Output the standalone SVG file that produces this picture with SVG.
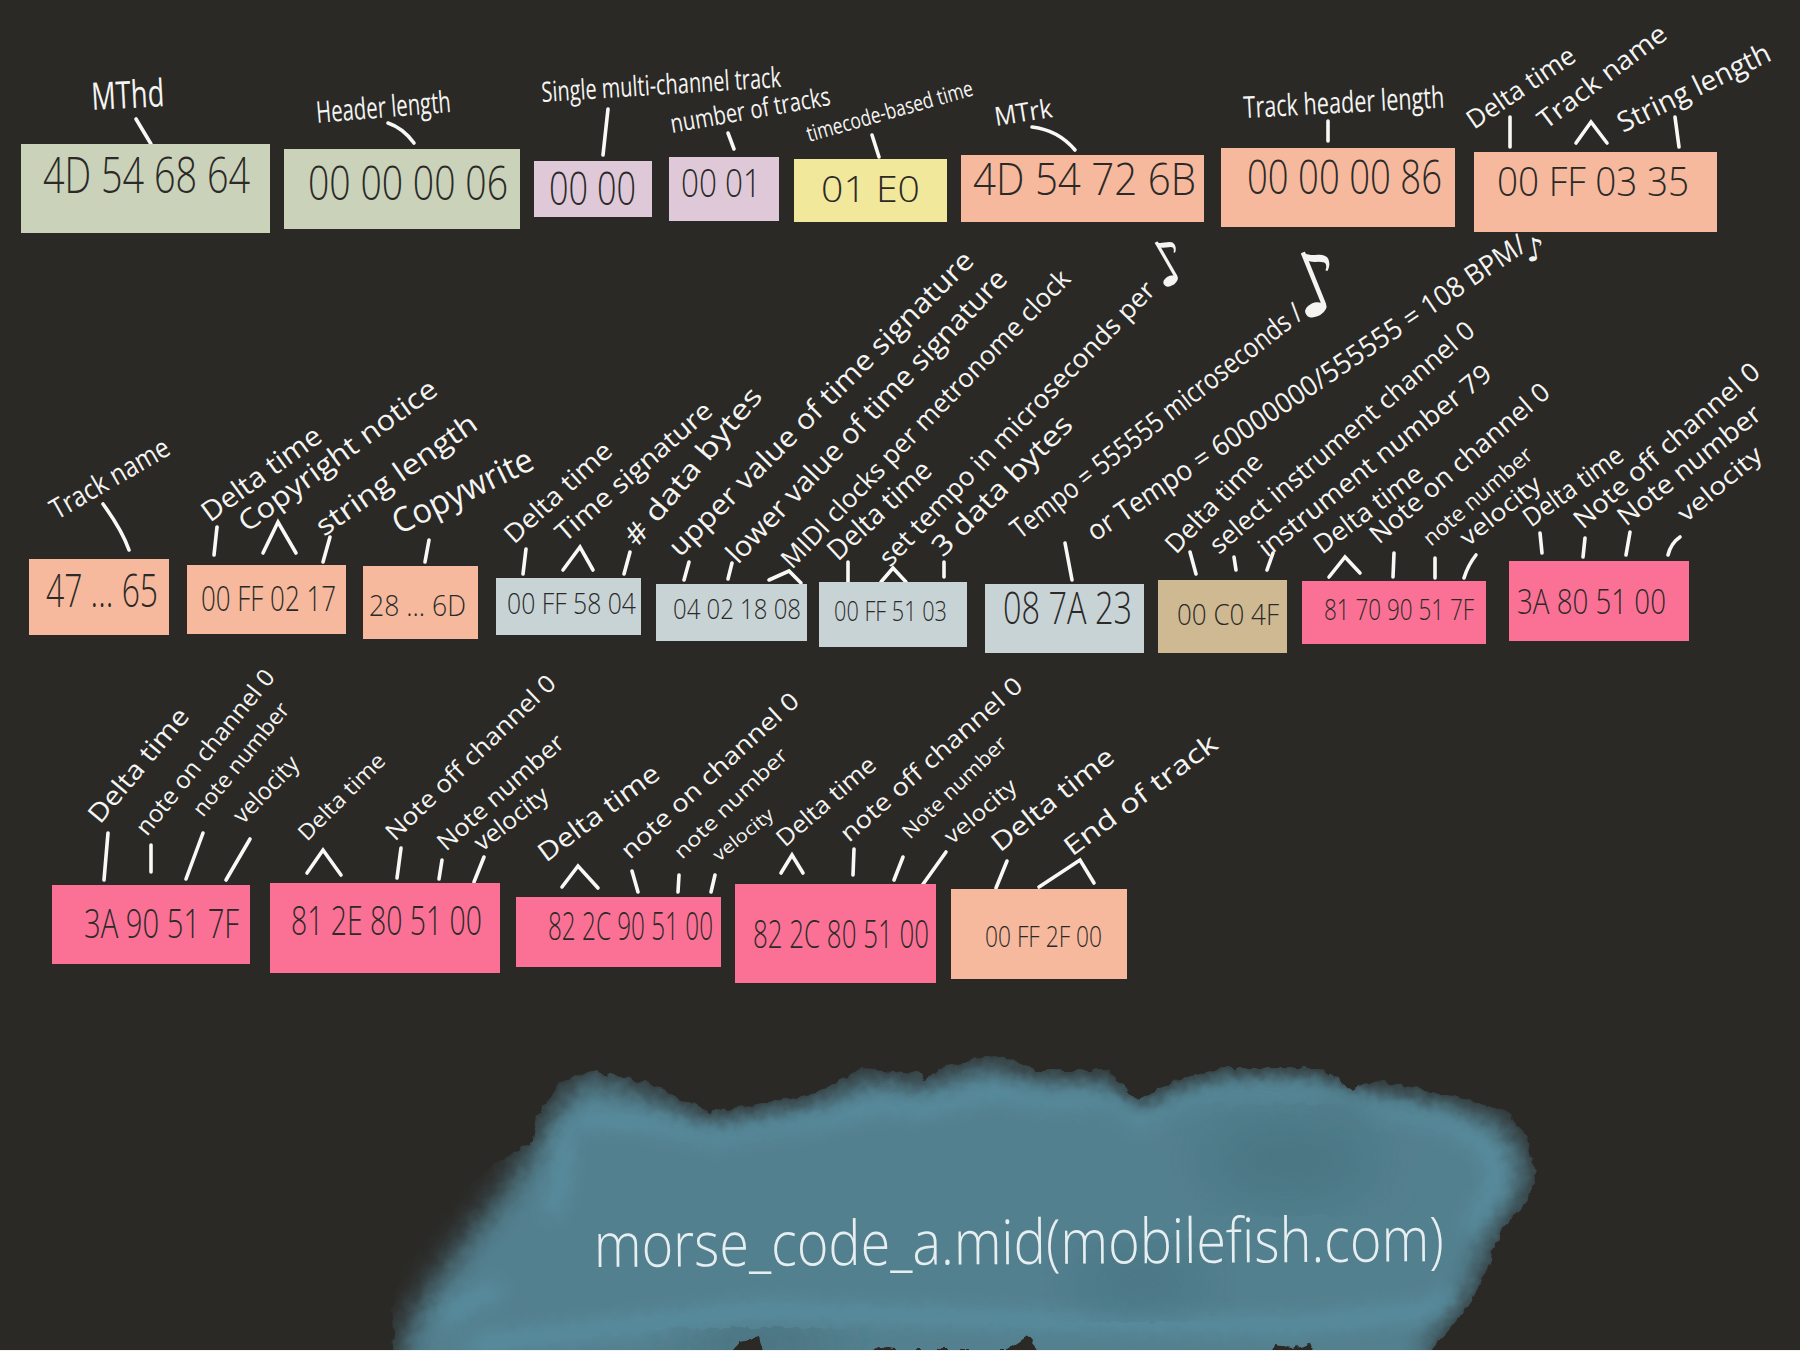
<svg xmlns="http://www.w3.org/2000/svg" width="1800" height="1351" viewBox="0 0 1800 1351">
<style>
text{font-family:"Open Sans","Liberation Sans",sans-serif}
.l{fill:#f4f4f2;font-size:24px}
.h{fill:#2b2a28;font-size:36px;font-weight:300}
.n{fill:#f4f4f2;font-family:"DejaVu Sans",sans-serif}
.gr{fill:#cad2b9}.pu{fill:#dfc9d9}.ye{fill:#f2e89b}.or{fill:#f6b99d}.bl{fill:#c8d3d6}.ta{fill:#cfb992}.pk{fill:#fb7095}
#connectors path{fill:none;stroke:#f8f8f6;stroke-width:3.6;stroke-linecap:round;stroke-linejoin:miter}
</style>
<defs>
<filter id="b1" x="-10%" y="-10%" width="120%" height="120%"><feGaussianBlur stdDeviation="15"/></filter>
<filter id="b2" x="-10%" y="-10%" width="120%" height="120%"><feGaussianBlur stdDeviation="9"/></filter>
<filter id="b3" x="-20%" y="-20%" width="140%" height="140%"><feGaussianBlur stdDeviation="30"/></filter>
<filter id="jag" x="-5%" y="-5%" width="110%" height="110%"><feTurbulence type="fractalNoise" baseFrequency="0.09" numOctaves="2" seed="4"/><feDisplacementMap in="SourceGraphic" scale="9" xChannelSelector="R" yChannelSelector="G"/></filter>
<clipPath id="cl"><polygon points="587,1070 648,1083 709,1112 763,1103 816,1093 862,1068 916,1073 927,1080 939,1068 992,1055 1038,1070 1107,1070 1138,1100 1176,1080 1222,1068 1321,1068 1352,1090 1375,1080 1451,1095 1505,1110 1528,1137 1536,1180 1520,1210 1501,1230 1482,1283 1467,1307 1436,1347 1425,1360 1321,1360 1310,1343 1291,1348 1275,1345 1268,1360 1046,1360 1027,1337 1008,1350 893,1350 877,1347 862,1360 766,1360 759,1338 740,1342 724,1360 395,1360 391,1307 403,1267 434,1213 487,1170 533,1140 537,1117 560,1083"/></clipPath>
</defs>
<rect width="1800" height="1351" fill="#2a2926"/>

<g id="cloud">
<g filter="url(#jag)"><g clip-path="url(#cl)">
<polygon filter="url(#b1)" fill="#52808f" points="587,1072 648,1092 709,1120 763,1111 816,1101 862,1076 916,1081 927,1088 939,1076 992,1063 1038,1078 1107,1078 1138,1108 1176,1088 1222,1076 1321,1076 1352,1098 1375,1088 1451,1103 1500,1118 1523,1145 1531,1180 1515,1210 1496,1230 1477,1283 1462,1307 1431,1347 1420,1420 400,1420 402,1335 425,1295 465,1240 505,1190 530,1150 555,1105"/>
<path filter="url(#b2)" fill="none" stroke="#5a92a4" stroke-width="13" d="M575,1118 L650,1122 L715,1138 L765,1128 L820,1120 L880,1104 L925,1108 L990,1090 L1040,1098 L1105,1098 L1140,1122 L1180,1102 L1225,1090 L1320,1090 L1375,1108 L1450,1122 L1490,1150 L1497,1185 L1470,1230 M565,1125 L562,1175 L552,1215 M440,1320 L470,1300 L500,1290 M470,1345 L760,1310 L1020,1320 L1300,1325 L1430,1310 L1455,1290"/>
<ellipse filter="url(#b3)" cx="1290" cy="1160" rx="90" ry="40" fill="#4a7482"/>
<ellipse filter="url(#b3)" cx="1140" cy="1280" rx="70" ry="30" fill="#4a7483"/>
<ellipse filter="url(#b3)" cx="760" cy="1345" rx="80" ry="12" fill="#3f5f69"/>
</g></g>
<text class="l" transform="rotate(-0.4 594 1267)" x="594" y="1267" textLength="850" lengthAdjust="spacingAndGlyphs" style="font-size:62px;fill:#e6eef0;font-weight:300">morse_code_a.mid(mobilefish.com)</text>
</g>
<rect y="1350" width="1800" height="1" fill="#f2f2f2"/>

<g id="connectors">
<path d="M136,119L151,144"/><path d="M388,123Q403,128 414,143"/><path d="M608,109L603,155"/><path d="M728,133L734,149"/><path d="M872,135L879,157"/><path d="M1032,127Q1058,130 1075,150"/><path d="M1328,121V141"/><path d="M1510,117V147"/><path d="M1576,143L1591,122L1607,143"/><path d="M1675,117L1679,147"/>
<path d="M103,504Q122,530 129,550"/><path d="M217,527L214,555"/><path d="M263,553L278,522L296,553"/><path d="M330,537L323,562"/><path d="M429,540L425,562"/><path d="M526,549L523,574"/><path d="M563,570L580,547L593,570"/><path d="M630,552L624,574"/><path d="M689,562L684,580"/><path d="M732,563L728,579"/><path d="M769,580L789,571L801,583"/><path d="M848,562V582"/><path d="M881,582L893,568L906,582"/><path d="M944,562V577"/><path d="M1065,543L1072,580"/><path d="M1190,552L1196,574"/><path d="M1234,557L1236,570"/><path d="M1273,553L1267,570"/><path d="M1329,577L1345,557L1360,573"/><path d="M1394,553L1393,577"/><path d="M1435,558V578"/><path d="M1476,555Q1468,565 1464,578"/><path d="M1540,533L1542,553"/><path d="M1585,538L1583,557"/><path d="M1630,532L1626,555"/><path d="M1680,537Q1671,543 1668,555"/>
<path d="M108,833L104,880"/><path d="M151,845V872"/><path d="M203,833L186,879"/><path d="M250,839L226,880"/><path d="M307,873L323,850L341,875"/><path d="M401,848L397,878"/><path d="M442,860L439,879"/><path d="M484,857L474,882"/><path d="M562,887L578,866L598,888"/><path d="M632,871L638,892"/><path d="M679,875L678,892"/><path d="M715,875L711,892"/><path d="M781,873L792,855L803,873"/><path d="M854,849L853,875"/><path d="M903,857L894,880"/><path d="M946,852L921,887"/><path d="M1007,861L996,888"/><path d="M1039,887L1080,860L1094,883"/>
</g>

<g id="mthd"><rect class="gr" x="21" y="144" width="249" height="89"/><text class="h" x="43" y="193" textLength="207" lengthAdjust="spacingAndGlyphs" style="font-size:50px">4D 54 68 64</text><text class="l" x="92" y="110" transform="rotate(-3 92 110)" textLength="73" lengthAdjust="spacingAndGlyphs" style="font-size:38px">MThd</text></g>
<g id="hlen"><rect class="gr" x="284" y="149" width="236" height="80"/><text class="h" x="308" y="200" textLength="200" lengthAdjust="spacingAndGlyphs" style="font-size:48px">00 00 00 06</text><text class="l" x="317" y="123" transform="rotate(-4.7 317 123)" textLength="135" lengthAdjust="spacingAndGlyphs" style="font-size:30px">Header length</text></g>
<g id="fmt"><rect class="pu" x="534" y="161" width="118" height="56"/><text class="h" x="549" y="205" textLength="87" lengthAdjust="spacingAndGlyphs" style="font-size:46px">00 00</text><text class="l" x="542" y="102" transform="rotate(-3.6 542 102)" textLength="240" lengthAdjust="spacingAndGlyphs" style="font-size:28px">Single multi-channel track</text></g>
<g id="ntrk"><rect class="pu" x="669" y="157" width="110" height="64"/><text class="h" x="681" y="197" textLength="80" lengthAdjust="spacingAndGlyphs" style="font-size:38px">00 01</text><text class="l" x="672" y="133" transform="rotate(-10 672 133)" textLength="162" lengthAdjust="spacingAndGlyphs" style="font-size:26px">number of tracks</text></g>
<g id="div"><rect class="ye" x="794" y="159" width="153" height="63"/><text class="h" x="821" y="202" textLength="99" lengthAdjust="spacingAndGlyphs" style="font-size:36px">01 E0</text><text class="l" x="809" y="142" transform="rotate(-15.8 809 142)" textLength="172" lengthAdjust="spacingAndGlyphs" style="font-size:22px">timecode-based time</text></g>
<g id="mtrk"><rect class="or" x="961" y="155" width="243" height="67"/><text class="h" x="973" y="195" textLength="223" lengthAdjust="spacingAndGlyphs" style="font-size:44px">4D 54 72 6B</text><text class="l" x="996" y="126" transform="rotate(-9 996 126)" textLength="58" lengthAdjust="spacingAndGlyphs" style="font-size:26px">MTrk</text></g>
<g id="tlen"><rect class="or" x="1221" y="148" width="234" height="79"/><text class="h" x="1247" y="194" textLength="195" lengthAdjust="spacingAndGlyphs" style="font-size:48px">00 00 00 86</text><text class="l" x="1244" y="118" transform="rotate(-3 1244 118)" textLength="201" lengthAdjust="spacingAndGlyphs" style="font-size:30px">Track header length</text></g>
<g id="tname"><rect class="or" x="1474" y="152" width="243" height="80"/><text class="h" x="1497" y="196" textLength="192" lengthAdjust="spacingAndGlyphs" style="font-size:40px">00 FF 03 35</text><text class="l" x="1474" y="130" transform="rotate(-34 1474 130)" textLength="125" lengthAdjust="spacingAndGlyphs" style="font-size:26px">Delta time</text><text class="l" x="1546" y="130" transform="rotate(-37 1546 130)" textLength="154" lengthAdjust="spacingAndGlyphs" style="font-size:26px">Track name</text><text class="l" x="1623" y="133" transform="rotate(-26 1623 133)" textLength="167" lengthAdjust="spacingAndGlyphs" style="font-size:28px">String length</text></g>

<g id="name"><rect class="or" x="29" y="559" width="140" height="76"/><text class="h" x="46" y="607" textLength="112" lengthAdjust="spacingAndGlyphs" style="font-size:46px">47 ... 65</text><text class="l" x="57" y="520" transform="rotate(-30 57 520)" textLength="133" lengthAdjust="spacingAndGlyphs" style="font-size:28px">Track name</text></g>
<g id="copy"><rect class="or" x="187" y="565" width="159" height="69"/><text class="h" x="201" y="611" textLength="135" lengthAdjust="spacingAndGlyphs" style="font-size:34px">00 FF 02 17</text><text class="l" x="210" y="523" transform="rotate(-36 210 523)" textLength="141" lengthAdjust="spacingAndGlyphs" style="font-size:28px">Delta time</text><text class="l" x="247" y="533" transform="rotate(-36 247 533)" textLength="238" lengthAdjust="spacingAndGlyphs" style="font-size:28px">Copyright notice</text><text class="l" x="324" y="537" transform="rotate(-35 324 537)" textLength="190" lengthAdjust="spacingAndGlyphs" style="font-size:28px">string length</text></g>
<g id="cw"><rect class="or" x="363" y="566" width="115" height="73"/><text class="h" x="369" y="616" textLength="97" lengthAdjust="spacingAndGlyphs" style="font-size:30px">28 ... 6D</text><text class="l" x="399" y="535" transform="rotate(-26 399 535)" textLength="153" lengthAdjust="spacingAndGlyphs" style="font-size:34px">Copywrite</text></g>
<g id="ts"><rect class="bl" x="496" y="578" width="145" height="57"/><text class="h" x="507" y="614" textLength="129" lengthAdjust="spacingAndGlyphs" style="font-size:30px">00 FF 58 04</text><text class="l" x="514" y="545" transform="rotate(-42.6 514 545)" textLength="136" lengthAdjust="spacingAndGlyphs" style="font-size:26px">Delta time</text><text class="l" x="565" y="543" transform="rotate(-41 565 543)" textLength="198" lengthAdjust="spacingAndGlyphs" style="font-size:26px">Time signature</text><text class="l" x="637" y="548" transform="rotate(-50 637 548)" textLength="197" lengthAdjust="spacingAndGlyphs" style="font-size:28px"># data bytes</text></g>
<g id="tsv"><rect class="bl" x="656" y="584" width="151" height="57"/><text class="h" x="673" y="619" textLength="128" lengthAdjust="spacingAndGlyphs" style="font-size:28px">04 02 18 08</text><text class="l" x="680" y="558" transform="rotate(-45 680 558)" textLength="418" lengthAdjust="spacingAndGlyphs" style="font-size:28px">upper value of time signature</text><text class="l" x="738" y="565" transform="rotate(-46.4 738 565)" textLength="393" lengthAdjust="spacingAndGlyphs" style="font-size:28px">lower value of time signature</text><text class="l" x="792" y="570" transform="rotate(-46 792 570)" textLength="403" lengthAdjust="spacingAndGlyphs" style="font-size:26px">MIDI clocks per metronome clock</text></g>
<g id="tmp"><rect class="bl" x="819" y="582" width="148" height="65"/><text class="h" x="834" y="621" textLength="113" lengthAdjust="spacingAndGlyphs" style="font-size:28px">00 FF 51 03</text><text class="l" x="838" y="562" transform="rotate(-43 838 562)" textLength="131" lengthAdjust="spacingAndGlyphs" style="font-size:28px">Delta time</text><text class="l" x="890" y="568" transform="rotate(-46 890 568)" textLength="384" lengthAdjust="spacingAndGlyphs" style="font-size:26px">set tempo in microseconds per</text><text class="n" x="1148" y="284" transform="rotate(-30 1168 262)" style="font-size:62px">♪</text><text class="l" x="943" y="558" transform="rotate(-45 943 558)" textLength="186" lengthAdjust="spacingAndGlyphs" style="font-size:28px">3 data bytes</text></g>
<g id="tmpv"><rect class="bl" x="985" y="584" width="159" height="69"/><text class="h" x="1003" y="624" textLength="129" lengthAdjust="spacingAndGlyphs" style="font-size:44px">08 7A 23</text><text class="l" x="1020" y="540" transform="rotate(-38 1020 540)" textLength="362" lengthAdjust="spacingAndGlyphs" style="font-size:28px">Tempo = 555555 microseconds /</text><text class="n" x="1286" y="316" transform="rotate(-22 1310 280)" style="font-size:88px">♪</text><text class="l" x="1095" y="542" transform="rotate(-34 1095 542)" textLength="523" lengthAdjust="spacingAndGlyphs" style="font-size:28px">or Tempo = 60000000/555555 = 108 BPM/</text><text class="n" x="1524" y="260" transform="rotate(-10 1538 245)" style="font-size:32px">♪</text></g>
<g id="prog"><rect class="ta" x="1158" y="580" width="129" height="73"/><text class="h" x="1177" y="625" textLength="102" lengthAdjust="spacingAndGlyphs" style="font-size:30px">00 C0 4F</text><text class="l" x="1176" y="555" transform="rotate(-46 1176 555)" textLength="127" lengthAdjust="spacingAndGlyphs" style="font-size:26px">Delta time</text><text class="l" x="1219" y="555" transform="rotate(-40.7 1219 555)" textLength="340" lengthAdjust="spacingAndGlyphs" style="font-size:26px">select instrument channel 0</text><text class="l" x="1267" y="558" transform="rotate(-38.6 1267 558)" textLength="290" lengthAdjust="spacingAndGlyphs" style="font-size:26px">instrument number 79</text></g>
<g id="on1"><rect class="pk" x="1302" y="581" width="184" height="63"/><text class="h" x="1324" y="620" textLength="150" lengthAdjust="spacingAndGlyphs" style="font-size:30px">81 70 90 51 7F</text><text class="l" x="1322" y="555" transform="rotate(-37 1322 555)" textLength="129" lengthAdjust="spacingAndGlyphs" style="font-size:26px">Delta time</text><text class="l" x="1379" y="545" transform="rotate(-41 1379 545)" textLength="229" lengthAdjust="spacingAndGlyphs" style="font-size:26px">Note on channel 0</text><text class="l" x="1431" y="547" transform="rotate(-41 1431 547)" textLength="137" lengthAdjust="spacingAndGlyphs" style="font-size:22px">note number</text><text class="l" x="1468" y="547" transform="rotate(-38.6 1468 547)" textLength="96" lengthAdjust="spacingAndGlyphs" style="font-size:24px">velocity</text></g>
<g id="off1"><rect class="pk" x="1509" y="561" width="180" height="80"/><text class="h" x="1517" y="614" textLength="149" lengthAdjust="spacingAndGlyphs" style="font-size:34px">3A 80 51 00</text><text class="l" x="1531" y="528" transform="rotate(-36 1531 528)" textLength="117" lengthAdjust="spacingAndGlyphs" style="font-size:26px">Delta time</text><text class="l" x="1583" y="530" transform="rotate(-41 1583 530)" textLength="237" lengthAdjust="spacingAndGlyphs" style="font-size:26px">Note off channel 0</text><text class="l" x="1626" y="527" transform="rotate(-38.6 1626 527)" textLength="176" lengthAdjust="spacingAndGlyphs" style="font-size:26px">Note number</text><text class="l" x="1686" y="523" transform="rotate(-40 1686 523)" textLength="102" lengthAdjust="spacingAndGlyphs" style="font-size:24px">velocity</text></g>

<g id="on2"><rect class="pk" x="52" y="885" width="198" height="79"/><text class="h" x="84" y="938" textLength="155" lengthAdjust="spacingAndGlyphs" style="font-size:40px">3A 90 51 7F</text><text class="l" x="100" y="825" transform="rotate(-50 100 825)" textLength="141" lengthAdjust="spacingAndGlyphs" style="font-size:26px">Delta time</text><text class="l" x="147" y="837" transform="rotate(-51 147 837)" textLength="205" lengthAdjust="spacingAndGlyphs" style="font-size:24px">note on channel 0</text><text class="l" x="203" y="818" transform="rotate(-51 203 818)" textLength="139" lengthAdjust="spacingAndGlyphs" style="font-size:22px">note number</text><text class="l" x="243" y="825" transform="rotate(-46 243 825)" textLength="83" lengthAdjust="spacingAndGlyphs" style="font-size:24px">velocity</text></g>
<g id="off2"><rect class="pk" x="270" y="883" width="230" height="90"/><text class="h" x="291" y="935" textLength="191" lengthAdjust="spacingAndGlyphs" style="font-size:40px">81 2E 80 51 00</text><text class="l" x="307" y="842" transform="rotate(-45 307 842)" textLength="113" lengthAdjust="spacingAndGlyphs" style="font-size:22px">Delta time</text><text class="l" x="395" y="842" transform="rotate(-44 395 842)" textLength="226" lengthAdjust="spacingAndGlyphs" style="font-size:24px">Note off channel 0</text><text class="l" x="446" y="852" transform="rotate(-41.7 446 852)" textLength="161" lengthAdjust="spacingAndGlyphs" style="font-size:24px">Note number</text><text class="l" x="482" y="852" transform="rotate(-38 482 852)" textLength="87" lengthAdjust="spacingAndGlyphs" style="font-size:24px">velocity</text></g>
<g id="on3"><rect class="pk" x="516" y="897" width="205" height="70"/><text class="h" x="548" y="940" textLength="165" lengthAdjust="spacingAndGlyphs" style="font-size:38px">82 2C 90 51 00</text><text class="l" x="546" y="863" transform="rotate(-36.5 546 863)" textLength="144" lengthAdjust="spacingAndGlyphs" style="font-size:26px">Delta time</text><text class="l" x="630" y="860" transform="rotate(-42.6 630 860)" textLength="232" lengthAdjust="spacingAndGlyphs" style="font-size:24px">note on channel 0</text><text class="l" x="682" y="860" transform="rotate(-44 682 860)" textLength="149" lengthAdjust="spacingAndGlyphs" style="font-size:20px">note number</text><text class="l" x="719" y="862" transform="rotate(-38.8 719 862)" textLength="72" lengthAdjust="spacingAndGlyphs" style="font-size:18px">velocity</text></g>
<g id="off3"><rect class="pk" x="735" y="884" width="201" height="99"/><text class="h" x="753" y="948" textLength="176" lengthAdjust="spacingAndGlyphs" style="font-size:38px">82 2C 80 51 00</text><text class="l" x="785" y="848" transform="rotate(-41 785 848)" textLength="123" lengthAdjust="spacingAndGlyphs" style="font-size:24px">Delta time</text><text class="l" x="849" y="843" transform="rotate(-41.5 849 843)" textLength="234" lengthAdjust="spacingAndGlyphs" style="font-size:24px">note off channel 0</text><text class="l" x="910" y="840" transform="rotate(-44 910 840)" textLength="137" lengthAdjust="spacingAndGlyphs" style="font-size:20px">Note number</text><text class="l" x="952" y="845" transform="rotate(-40 952 845)" textLength="87" lengthAdjust="spacingAndGlyphs" style="font-size:22px">velocity</text></g>
<g id="eot"><rect class="or" x="951" y="889" width="176" height="90"/><text class="h" x="985" y="947" textLength="117" lengthAdjust="spacingAndGlyphs" style="font-size:30px">00 FF 2F 00</text><text class="l" x="1000" y="853" transform="rotate(-38.7 1000 853)" textLength="149" lengthAdjust="spacingAndGlyphs" style="font-size:26px">Delta time</text><text class="l" x="1072" y="857" transform="rotate(-36.6 1072 857)" textLength="184" lengthAdjust="spacingAndGlyphs" style="font-size:26px">End of track</text></g>
</svg>
